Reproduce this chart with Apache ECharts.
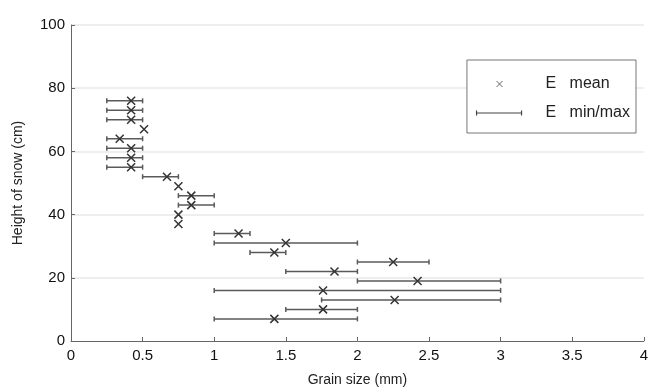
<!DOCTYPE html>
<html>
<head>
<meta charset="utf-8">
<script src="https://cdn.jsdelivr.net/npm/echarts@6/dist/echarts.min.js"></script>
<style>
  html, body { margin: 0; padding: 0; background: #fff; }
  #chart { width: 651px; height: 392px; }
</style>
</head>
<body>
<div id="chart"></div>
<script>
// snow height (cm) and grain size (mm): mean, min, max per layer
var heights = [76, 73, 70, 67, 64, 61, 58, 55, 52, 49, 46, 43, 40, 37, 34, 31, 28, 25, 22, 19, 16, 13, 10, 7];
var meanSize = [0.42, 0.42, 0.42, 0.51, 0.34, 0.42, 0.42, 0.42, 0.67, 0.75, 0.84, 0.84, 0.75, 0.75,
                1.17, 1.5, 1.42, 2.25, 1.84, 2.42, 1.76, 2.26, 1.76, 1.42];
var minSize = [0.25, 0.25, 0.25, null, 0.25, 0.25, 0.25, 0.25, 0.5, null, 0.75, 0.75, null, null,
               1.0, 1.0, 1.25, 2.0, 1.5, 2.0, 1.0, 1.75, 1.5, 1.0];
var maxSize = [0.5, 0.5, 0.5, null, 0.5, 0.5, 0.5, 0.5, 0.75, null, 1.0, 1.0, null, null,
               1.25, 2.0, 1.5, 2.5, 2.0, 3.0, 3.0, 3.0, 2.0, 2.0];

(function () {
  "use strict";

  var FONT = "Liberation Sans, Arial, sans-serif";
  var INK = "#222";

  var meanData = heights.map(function (h, i) { return [meanSize[i], h]; });
  var barData = [];
  heights.forEach(function (h, i) {
    if (minSize[i] != null) barData.push([minSize[i], maxSize[i], h]);
  });

  var crossPath = "path://M0 0L10 10M10 0L0 10";
  // legend icons padded to a 70x14 box so the text sits where it does in the figure
  var crossIcon = "path://M0 0M70 14M20 4L26 10M26 4L20 10";
  var barIcon = "path://M0 0M70 14M0 7L45 7M0 4.5L0 9.5M45 4.5L45 9.5";

  var chart = echarts.init(document.getElementById("chart"), null, { renderer: "canvas" });

  chart.setOption({
    backgroundColor: "#fff",
    animation: false,
    grid: { left: 71, right: 6, top: 25, bottom: 49 },
    legend: {
      right: 15,
      top: 60,
      orient: "vertical",
      padding: [16, 6, 12, 9],
      itemGap: 13,
      itemWidth: 70,
      itemHeight: 14,
      backgroundColor: "#fff",
      borderColor: "#777",
      borderWidth: 1,
      borderRadius: 0,
      textStyle: { fontFamily: FONT, fontSize: 16, color: "#222", padding: [0, 0, 0, -6] },
      data: [
        { name: "E   mean", icon: crossIcon, itemStyle: { color: "transparent", borderColor: "#666", borderWidth: 1 } },
        { name: "E   min/max", icon: barIcon, itemStyle: { color: "transparent", borderColor: "#444", borderWidth: 1.2 } }
      ]
    },
    xAxis: {
      type: "value",
      min: 0,
      max: 4,
      interval: 0.5,
      name: "Grain size (mm)",
      nameLocation: "middle",
      nameGap: 32,
      nameTextStyle: { fontFamily: FONT, fontSize: 14, color: INK },
      axisLine: { lineStyle: { color: "#666", width: 1 } },
      axisTick: { inside: true, length: 4, lineStyle: { color: "#666" } },
      axisLabel: { fontFamily: FONT, fontSize: 15, color: "#111", margin: 7 },
      splitLine: { show: false }
    },
    yAxis: {
      type: "value",
      min: 0,
      max: 100,
      interval: 20,
      name: "Height of snow (cm)",
      nameLocation: "middle",
      nameGap: 46,
      nameTextStyle: { fontFamily: FONT, fontSize: 14, color: INK },
      axisLine: { show: true, lineStyle: { color: "#666", width: 1 } },
      axisTick: { show: true, inside: true, length: 4, lineStyle: { color: "#666" } },
      axisLabel: { fontFamily: FONT, fontSize: 15, color: "#111", margin: 6 },
      splitLine: { show: true, showMinLine: false, lineStyle: { color: "#e8e8e8", width: 1.5 } }
    },
    series: [
      {
        name: "E   min/max",
        type: "custom",
        data: barData,
        encode: { x: [0, 1], y: 2 },
        renderItem: function (params, api) {
          var a = api.coord([api.value(0), api.value(2)]);
          var b = api.coord([api.value(1), api.value(2)]);
          var style = { stroke: "#5a5a5a", lineWidth: 1.5 };
          return {
            type: "group",
            children: [
              { type: "line", shape: { x1: a[0], y1: a[1], x2: b[0], y2: b[1] }, style: style },
              { type: "line", shape: { x1: a[0], y1: a[1] - 2.5, x2: a[0], y2: a[1] + 2.5 }, style: style },
              { type: "line", shape: { x1: b[0], y1: b[1] - 2.5, x2: b[0], y2: b[1] + 2.5 }, style: style }
            ]
          };
        },
        z: 2
      },
      {
        name: "E   mean",
        type: "scatter",
        data: meanData,
        symbol: crossPath,
        symbolSize: 8,
        itemStyle: { color: "transparent", borderColor: "#333", borderWidth: 1.5, opacity: 1 },
        z: 3
      }
    ]
  });
})();
</script>
</body>
</html>
